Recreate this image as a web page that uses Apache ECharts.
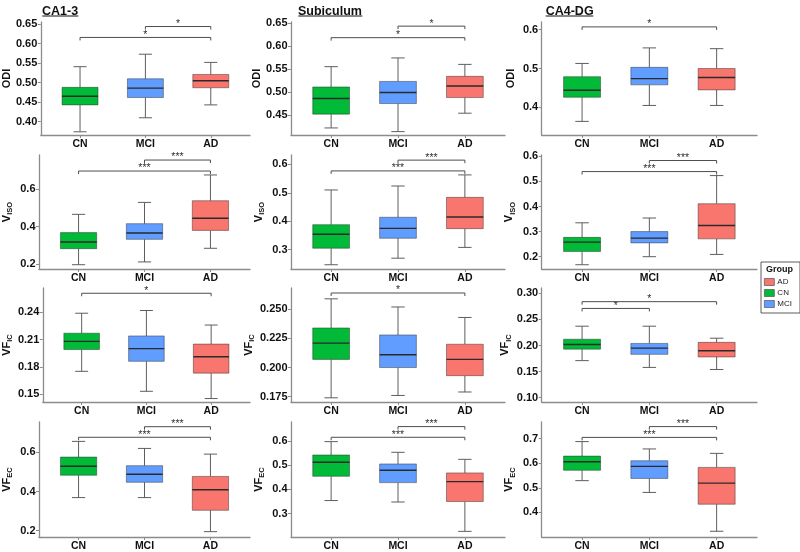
<!DOCTYPE html>
<html><head><meta charset="utf-8">
<script src="https://cdn.jsdelivr.net/npm/echarts@6/dist/echarts.min.js"></script>
<style>html,body{margin:0;padding:0;background:#fff}#c{width:800px;height:552px}</style>
</head><body><div id="c"></div>
<script>
// ---------------- data ----------------
const groups = ['CN', 'MCI', 'AD'];
const regions = ['CA1-3', 'Subiculum', 'CA4-DG'];
const metricNames = ['ODI', '{m|V}{s|ISO}', '{m|VF}{s|IC}', '{m|VF}{s|EC}'];

// box statistics per group (CN, MCI, AD): [min, Q1, median, Q3, max]
const odiCA13  = [[0.374,0.443,0.465,0.488,0.541],[0.410,0.462,0.486,0.510,0.573],[0.443,0.487,0.505,0.521,0.552]];
const odiSub   = [[0.422,0.452,0.486,0.511,0.555],[0.414,0.475,0.499,0.523,0.574],[0.454,0.488,0.513,0.534,0.560]];
const odiCA4   = [[0.364,0.426,0.444,0.479,0.513],[0.405,0.458,0.474,0.503,0.553],[0.405,0.445,0.477,0.500,0.551]];
const visoCA13 = [[0.196,0.282,0.318,0.368,0.466],[0.211,0.332,0.366,0.416,0.530],[0.284,0.380,0.445,0.539,0.677]];
const visoSub  = [[0.247,0.305,0.354,0.388,0.510],[0.270,0.340,0.375,0.414,0.524],[0.308,0.374,0.415,0.484,0.563]];
const visoCA4  = [[0.168,0.221,0.258,0.277,0.335],[0.200,0.255,0.274,0.300,0.354],[0.209,0.271,0.324,0.411,0.523]];
const vficCA13 = [[0.175,0.199,0.208,0.217,0.239],[0.153,0.186,0.200,0.214,0.242],[0.145,0.173,0.191,0.205,0.226]];
const vficSub  = [[0.174,0.207,0.221,0.234,0.259],[0.176,0.200,0.211,0.228,0.252],[0.179,0.193,0.207,0.220,0.243]];
const vficCA4  = [[0.171,0.193,0.202,0.212,0.237],[0.158,0.183,0.195,0.204,0.237],[0.154,0.178,0.190,0.206,0.214]];
const vfecCA13 = [[0.369,0.483,0.529,0.576,0.656],[0.369,0.447,0.488,0.532,0.620],[0.195,0.304,0.409,0.477,0.591]];
const vfecSub  = [[0.354,0.454,0.512,0.542,0.597],[0.348,0.428,0.479,0.505,0.553],[0.227,0.350,0.432,0.468,0.524]];
const vfecCA4  = [[0.529,0.571,0.606,0.629,0.688],[0.481,0.538,0.587,0.610,0.658],[0.323,0.433,0.519,0.583,0.640]];

// significance brackets: [group from, group to, y value, label]
const sigOdiCA13  = [[0,2,0.616,'*'],[1,2,0.644,'*']];
const sigOdiSub   = [[0,2,0.618,'*'],[1,2,0.643,'*']];
const sigOdiCA4   = [[0,2,0.607,'*']];
const sigVisoCA13 = [[0,2,0.698,'***'],[1,2,0.757,'***']];
const sigVisoSub  = [[0,2,0.577,'***'],[1,2,0.615,'***']];
const sigVisoCA4  = [[0,2,0.539,'***'],[1,2,0.583,'***']];
const sigVficCA13 = [[0,2,0.261,'*']];
const sigVficSub  = [[0,2,0.264,'*']];
const sigVficCA4  = [[0,1,0.271,'*'],[0,2,0.284,'*']];
const sigVfecCA13 = [[0,2,0.677,'***'],[1,2,0.731,'***']];
const sigVfecSub  = [[0,2,0.615,'***'],[1,2,0.659,'***']];
const sigVfecCA4  = [[0,2,0.705,'***'],[1,2,0.749,'***']];

// y tick labels per panel
const ticksOdiCA13  = [0.40,0.45,0.50,0.55,0.60,0.65];
const ticksOdiSub   = [0.45,0.50,0.55,0.60,0.65];
const ticksOdiCA4   = [0.4,0.5,0.6];
const ticksVisoCA13 = [0.2,0.4,0.6];
const ticksVisoSub  = [0.3,0.4,0.5,0.6];
const ticksVisoCA4  = [0.2,0.3,0.4,0.5,0.6];
const ticksVficCA13 = [0.15,0.18,0.21,0.24];
const ticksVficSub  = [0.175,0.200,0.225,0.250];
const ticksVficCA4  = [0.10,0.15,0.20,0.25,0.30];
const ticksVfecCA13 = [0.2,0.4,0.6];
const ticksVfecSub  = [0.3,0.4,0.5,0.6];
const ticksVfecCA4  = [0.4,0.5,0.6,0.7];
const tickDecimals = [[2,2,1],[1,1,1],[2,3,2],[1,1,1]];

// ---------------- layout / style ----------------
const boxes = [[odiCA13,odiSub,odiCA4],[visoCA13,visoSub,visoCA4],[vficCA13,vficSub,vficCA4],[vfecCA13,vfecSub,vfecCA4]];
const sigs  = [[sigOdiCA13,sigOdiSub,sigOdiCA4],[sigVisoCA13,sigVisoSub,sigVisoCA4],[sigVficCA13,sigVficSub,sigVficCA4],[sigVfecCA13,sigVfecSub,sigVfecCA4]];
const ticks = [[ticksOdiCA13,ticksOdiSub,ticksOdiCA4],[ticksVisoCA13,ticksVisoSub,ticksVisoCA4],[ticksVficCA13,ticksVficSub,ticksVficCA4],[ticksVfecCA13,ticksVfecSub,ticksVfecCA4]];
const yRange = [
  [[0.3658,0.6556],[0.4067,0.652],[0.329,0.6196]],
  [[0.173,0.784],[0.232,0.633],[0.151,0.605]],
  [[0.1412,0.2668],[0.1704,0.2683],[0.0917,0.3102]],
  [[0.1677,0.755],[0.2037,0.678],[0.2996,0.7677]]
];
const colL = [38, 291, 541.7], colR = [250, 505, 757];
const rowT = [22, 155, 288, 422], rowB = [135, 269, 402, 537];
const fills = ['#00BA38', '#619CFF', '#F8766D'];
const FONT = 'Liberation Sans, Arial, sans-serif';
const axisGray = '#8c8c8c';

function renderBox(color) {
  return function (params, api) {
    const x = api.value(0);
    const lo = api.coord([x, api.value(1)]);
    const q1 = api.coord([x, api.value(2)]);
    const md = api.coord([x, api.value(3)]);
    const q3 = api.coord([x, api.value(4)]);
    const hi = api.coord([x, api.value(5)]);
    const bw = api.size([0.55, 0])[0];
    const cw = api.size([0.2, 0])[0];
    const cx = lo[0];
    const wl = { stroke: '#5e5e5e', lineWidth: 1 };
    return { type: 'group', children: [
      { type: 'line', shape: { x1: cx, y1: hi[1], x2: cx, y2: q3[1] }, style: wl },
      { type: 'line', shape: { x1: cx, y1: q1[1], x2: cx, y2: lo[1] }, style: wl },
      { type: 'line', shape: { x1: cx - cw / 2, y1: hi[1], x2: cx + cw / 2, y2: hi[1] }, style: wl },
      { type: 'line', shape: { x1: cx - cw / 2, y1: lo[1], x2: cx + cw / 2, y2: lo[1] }, style: wl },
      { type: 'rect', shape: { x: cx - bw / 2, y: q3[1], width: bw, height: q1[1] - q3[1] },
        style: { fill: color, stroke: 'rgba(40,40,40,0.45)', lineWidth: 1 } },
      { type: 'line', shape: { x1: cx - bw / 2, y1: md[1], x2: cx + bw / 2, y2: md[1] },
        style: { stroke: '#2a2a2a', lineWidth: 1.4 } }
    ]};
  };
}
function renderSig(list) {
  return function (params, api) {
    const a = api.coord([api.value(0), api.value(2)]);
    const b = api.coord([api.value(1), api.value(2)]);
    const tip = 3;
    return { type: 'group', children: [
      { type: 'polyline', shape: { points: [[a[0], a[1] + tip], [a[0], a[1]], [b[0], b[1]], [b[0], b[1] + tip]] },
        style: { stroke: '#4d4d4d', lineWidth: 1, fill: null } },
      { type: 'text', x: (a[0] + b[0]) / 2, y: a[1] - 2.5,
        style: { text: list[params.dataIndex][3], align: 'center', verticalAlign: 'middle',
          fontSize: 10.5, fontFamily: FONT, fill: '#333' } }
    ]};
  };
}

const grid = [], xAxis = [], yAxis = [], series = [];
for (let r = 0; r < 4; r++) {
  for (let c = 0; c < 3; c++) {
    const gi = r * 3 + c;
    grid.push({ left: colL[c], top: rowT[r], width: colR[c] - colL[c], height: rowB[r] - rowT[r] });
    xAxis.push({
      type: 'value', gridIndex: gi, min: 0.4, max: 3.6,
      axisLine: { show: true, lineStyle: { color: axisGray, width: 1.3 } },
      axisTick: { show: true, customValues: [1, 2, 3], length: 3, lineStyle: { color: axisGray } },
      axisLabel: { customValues: [1, 2, 3], formatter: v => groups[Math.round(v) - 1], margin: 4,
        fontSize: 10.5, fontWeight: 'bold', fontFamily: FONT, color: '#111' },
      splitLine: { show: false }
    });
    const dec = tickDecimals[r][c];
    yAxis.push({
      type: 'value', gridIndex: gi, min: yRange[r][c][0], max: yRange[r][c][1],
      name: metricNames[r], nameLocation: 'middle', nameGap: 25,
      nameTextStyle: { fontSize: 11, fontWeight: 'bold', fontFamily: FONT, color: '#111',
        rich: {
          m: { fontSize: 11, fontWeight: 'bold', fontFamily: FONT, color: '#111', lineHeight: 15 },
          s: { fontSize: 7.5, fontWeight: 'bold', fontFamily: FONT, color: '#111', lineHeight: 9, verticalAlign: 'bottom' }
        } },
      axisLine: { show: true, lineStyle: { color: axisGray, width: 1.3 } },
      axisTick: { show: true, customValues: ticks[r][c], length: 3, lineStyle: { color: axisGray } },
      axisLabel: { customValues: ticks[r][c], formatter: v => v.toFixed(dec), margin: 3.5,
        fontSize: 11, fontWeight: 'bold', fontFamily: FONT, color: '#111' },
      splitLine: { show: false }
    });
    for (let g = 0; g < 3; g++) {
      series.push({
        type: 'custom', name: groups[g], xAxisIndex: gi, yAxisIndex: gi, silent: true,
        itemStyle: { color: fills[g] },
        encode: { x: 0, y: [1, 2, 3, 4, 5] },
        data: [[g + 1].concat(boxes[r][c][g])],
        renderItem: renderBox(fills[g])
      });
    }
    const sl = sigs[r][c];
    series.push({
      type: 'custom', xAxisIndex: gi, yAxisIndex: gi, silent: true,
      encode: { x: [0, 1], y: 2 },
      data: sl.map(s => [s[0] + 1, s[1] + 1, s[2]]),
      renderItem: renderSig(sl)
    });
  }
}

const titleLeft = [42, 298, 545.7];
const title = regions.map((t, i) => ({
  text: t, left: titleLeft[i], top: 5, padding: 0,
  textStyle: { fontSize: 12.5, fontWeight: 'bold', fontFamily: FONT, color: '#111' }
}));
title.push({ text: 'Group', left: 766, top: 265, padding: 0,
  textStyle: { fontSize: 9, fontWeight: 'bold', fontFamily: FONT, color: '#111' } });

const underline = [[42.3, 78.3], [298.3, 362.3], [545.7, 593.3]];
const graphic = underline.map(u => ({
  type: 'line', shape: { x1: u[0], y1: 16, x2: u[1], y2: 16 }, style: { stroke: '#111', lineWidth: 1 }, silent: true
}));

const chart = echarts.init(document.getElementById('c'));
chart.setOption({
  animation: false,
  backgroundColor: '#fff',
  title, grid, xAxis, yAxis, series, graphic,
  legend: {
    data: ['AD', 'CN', 'MCI'].map(n => ({ name: n, icon: 'rect',
      itemStyle: { borderColor: '#555', borderWidth: 0.7 } })),
    orient: 'vertical', left: 761, top: 262, padding: [16, 8, 5, 3],
    itemWidth: 10, itemHeight: 7, itemGap: 3,
    borderColor: '#333', borderWidth: 0.8,
    textStyle: { fontSize: 8, fontFamily: FONT, color: '#222', padding: [0, 0, 0, -2] },
    selectedMode: false
  }
});
</script></body></html>
